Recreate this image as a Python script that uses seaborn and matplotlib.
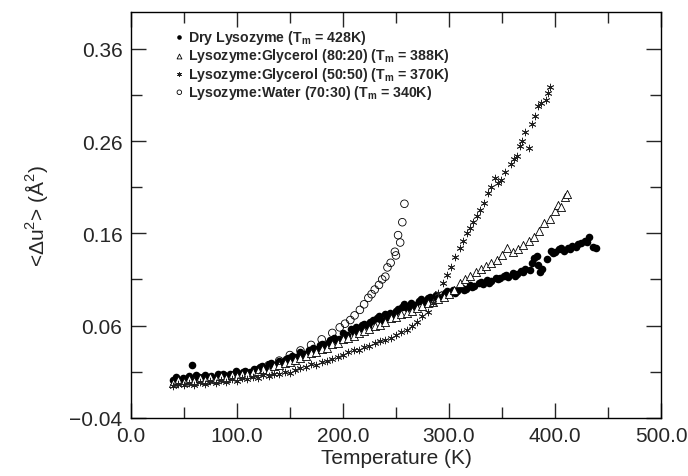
import numpy as np
import pandas as pd
import matplotlib
matplotlib.use("Agg")
import matplotlib.pyplot as plt
import seaborn as sns
from matplotlib.ticker import MultipleLocator, FuncFormatter

# Dry lysozyme (filled circles)
dry_T = [40, 43, 46, 49, 52, 55, 58, 61, 64, 67, 70, 73, 76, 79, 82, 85, 88, 91, 94, 97,
         100, 104, 108, 112, 116, 120, 124, 128, 132, 136, 140, 144, 148, 152, 156, 160,
         164, 168, 172, 176, 180, 184, 188, 192, 196, 200, 204, 208, 212, 216, 220, 224,
         228, 232, 236, 240, 244, 248, 252, 256, 260, 264, 268, 272, 276, 280, 284, 288,
         292, 296, 300, 304, 308, 312, 316, 320, 324, 328, 332, 336, 340, 344, 348, 352,
         356, 360, 364, 368, 372, 376, 378, 380, 383, 384, 386, 388, 392, 396, 400, 404,
         408, 412, 416, 420, 424, 428, 432, 436, 439]
dry_u = [0.001, 0.004, -0.001, 0.003, 0.002, 0.005, 0.017, 0.001, 0.004, 0.002, 0.006,
         0.003, 0.005, 0.002, 0.007, 0.004, 0.006, 0.003, 0.008, 0.005,
         0.009, 0.007, 0.011, 0.010, 0.013, 0.012, 0.016, 0.014, 0.019, 0.017, 0.022, 0.020,
         0.025, 0.027, 0.026, 0.031, 0.029, 0.034, 0.036, 0.035, 0.040, 0.038, 0.044, 0.046,
         0.045, 0.052, 0.050, 0.056, 0.058, 0.057, 0.062, 0.060, 0.066, 0.068, 0.066, 0.072,
         0.074, 0.071, 0.078, 0.080, 0.079, 0.084, 0.082, 0.087, 0.086, 0.090, 0.088, 0.093,
         0.091, 0.095, 0.094, 0.098, 0.097, 0.101, 0.100, 0.104, 0.103, 0.106, 0.105, 0.109,
         0.108, 0.112, 0.111, 0.114, 0.113, 0.117, 0.116, 0.119, 0.121, 0.120, 0.128, 0.133,
         0.135, 0.126, 0.118, 0.121, 0.132, 0.141, 0.140, 0.143, 0.141, 0.144, 0.146, 0.145,
         0.149, 0.152, 0.156, 0.145, 0.144]

# second, slightly offset pass of dry points that thickens the band
dry2_T = [42, 48, 54, 62, 68, 74, 81, 87, 93, 99, 106, 114, 122, 130, 138, 146, 154, 162,
          170, 178, 186, 194, 202, 210, 218, 226, 234, 242, 250, 258, 266, 274, 282, 290,
          298, 306, 314, 322, 330, 338, 346, 354, 362, 370, 398, 406, 414, 422, 430]
dry2_u = [-0.002, 0.000, 0.003, 0.006, 0.004, 0.001, 0.003, 0.008, 0.005, 0.011, 0.010,
          0.008, 0.015, 0.018, 0.016, 0.024, 0.022, 0.028, 0.032, 0.039, 0.041, 0.043, 0.049,
          0.053, 0.061, 0.064, 0.070, 0.069, 0.076, 0.083, 0.081, 0.089, 0.091, 0.089, 0.097,
          0.095, 0.099, 0.102, 0.107, 0.106, 0.110, 0.115, 0.114, 0.118, 0.139, 0.144, 0.143,
          0.148, 0.151]

# Lysozyme:Glycerol 80:20 (open triangles)
g80_T = [40, 45, 50, 55, 60, 65, 70, 75, 80, 85, 90, 95, 100, 105, 110, 115, 120, 125, 130,
         135, 140, 145, 150, 155, 160, 165, 170, 175, 180, 185, 190, 195, 200, 205, 210, 215,
         220, 225, 230, 235, 240, 245, 250, 255, 260, 265, 270, 275, 280, 285, 290, 295, 300,
         305, 310, 315, 320, 325, 330, 335, 340, 345, 350, 355, 360, 365, 370, 375, 380, 385,
         390, 395, 400, 403, 406, 409, 411]
g80_u = [-0.002, 0.001, -0.001, 0.002, 0.000, 0.003, 0.001, 0.004, 0.002, 0.005, 0.003,
         0.006, 0.005, 0.008, 0.007, 0.010, 0.011, 0.013, 0.012, 0.016, 0.017, 0.019, 0.021,
         0.023, 0.025, 0.027, 0.030, 0.031, 0.035, 0.036, 0.040, 0.041, 0.045, 0.046, 0.049,
         0.052, 0.054, 0.056, 0.059, 0.061, 0.064, 0.068, 0.069, 0.072, 0.074, 0.076, 0.079,
         0.081, 0.084, 0.086, 0.089, 0.091, 0.094, 0.099, 0.106, 0.110, 0.114, 0.118, 0.121,
         0.125, 0.128, 0.131, 0.136, 0.144, 0.140, 0.143, 0.147, 0.152, 0.156, 0.163, 0.171,
         0.176, 0.184, 0.191, 0.188, 0.199, 0.203]

# Lysozyme:Glycerol 50:50 (asterisks)
g50_T = [40, 45, 50, 55, 60, 65, 70, 75, 80, 85, 90, 95, 100, 105, 110, 115, 120, 125, 130,
         135, 140, 145, 150, 155, 160, 165, 170, 175, 180, 185, 190, 195, 200, 205, 210, 215,
         220, 225, 230, 235, 240, 245, 250, 255, 260, 265, 270, 275, 280, 285, 290, 294, 298,
         302, 306, 310, 313, 317, 320, 323, 326, 329, 333, 337, 340, 343, 346, 349, 353, 358,
         361, 364, 367, 369, 372, 375, 378, 381, 384, 387, 391, 393, 395]
g50_u = [-0.005, -0.003, -0.004, -0.002, -0.004, -0.001, -0.003, 0.000, -0.002, 0.001,
         -0.001, 0.002, 0.000, 0.003, 0.002, 0.004, 0.003, 0.006, 0.005, 0.008, 0.007, 0.010,
         0.009, 0.012, 0.014, 0.015, 0.018, 0.017, 0.020, 0.022, 0.024, 0.026, 0.028, 0.031,
         0.034, 0.033, 0.037, 0.038, 0.041, 0.043, 0.044, 0.047, 0.050, 0.053, 0.055, 0.060,
         0.064, 0.070, 0.075, 0.084, 0.095, 0.106, 0.115, 0.124, 0.134, 0.144, 0.152, 0.160,
         0.166, 0.172, 0.179, 0.185, 0.193, 0.204, 0.210, 0.220, 0.214, 0.218, 0.226, 0.235,
         0.240, 0.244, 0.255, 0.260, 0.270, 0.252, 0.279, 0.287, 0.298, 0.301, 0.305, 0.312,
         0.319]

# Lysozyme:Water 70:30 (open circles)
w70_T = [120, 130, 140, 150, 160, 170, 180, 190, 197, 202, 207, 211, 216, 220, 224, 227,
         230, 234, 237, 240, 242, 245, 249, 250, 252, 254, 256, 258]
w70_u = [0.012, 0.017, 0.022, 0.028, 0.033, 0.039, 0.045, 0.052, 0.058, 0.062, 0.066, 0.071,
         0.077, 0.083, 0.090, 0.094, 0.099, 0.104, 0.110, 0.113, 0.123, 0.128, 0.140, 0.136,
         0.158, 0.150, 0.172, 0.192]

labels = [r"Dry Lysozyme (T$_\mathbf{m}$ = 428K)",
          r"Lysozyme:Glycerol (80:20) (T$_\mathbf{m}$ = 388K)",
          r"Lysozyme:Glycerol (50:50) (T$_\mathbf{m}$ = 370K)",
          r"Lysozyme:Water (70:30) (T$_\mathbf{m}$ = 340K)"]

sns.set_style("ticks")
plt.rcParams['font.family'] = ['Liberation Sans', 'DejaVu Sans']
plt.rcParams['mathtext.fontset'] = 'custom'
plt.rcParams['mathtext.rm'] = 'Liberation Sans'
plt.rcParams['mathtext.bf'] = 'Liberation Sans:bold'

fig = plt.figure(figsize=(6.88, 4.77), dpi=100)
ax = fig.add_axes([0.190, 0.122, 0.771, 0.851])

sns.scatterplot(x=dry_T, y=dry_u, ax=ax, marker='o', color='black', s=30,
                linewidth=0, label=labels[0])
sns.scatterplot(x=dry2_T, y=dry2_u, ax=ax, marker='o', color='black', s=30,
                linewidth=0)
sns.scatterplot(x=g80_T, y=g80_u, ax=ax, marker='^', facecolor='white', edgecolor='black',
                s=34, linewidth=0.6, label=labels[1])
sns.scatterplot(x=g50_T, y=g50_u, ax=ax, marker=(6, 2, 0), color='#222222', s=24,
                linewidth=0.6, label=labels[2])
sns.scatterplot(x=w70_T, y=w70_u, ax=ax, marker='o', facecolor='none', edgecolor='black',
                s=30, linewidth=0.6, label=labels[3])

ax.set_xlim(0, 500)
ax.set_ylim(-0.04, 0.40)
ax.set_xticks([0, 100, 200, 300, 400, 500])
ax.set_yticks([-0.04, 0.06, 0.16, 0.26, 0.36])
ax.xaxis.set_minor_locator(MultipleLocator(50))
ax.set_yticks([0.01, 0.11, 0.21, 0.31], minor=True)
ax.xaxis.set_major_formatter(FuncFormatter(lambda v, p: f"{v:.1f}"))
ax.yaxis.set_major_formatter(FuncFormatter(lambda v, p: f"{v:.2f}".replace('-', '\u2212')))
ax.tick_params(which='both', direction='in', top=True, right=True, labelsize=15, width=1)
ax.tick_params(which='major', length=11, pad=6)
ax.tick_params(which='minor', length=8)
for sp in ax.spines.values():
    sp.set_linewidth(1)
    sp.set_color('black')

ax.set_xlabel("Temperature (K)", fontsize=15, labelpad=2)
ax.set_ylabel("<Δu$^2$> (Å$^2$)", fontsize=15, labelpad=14)

leg = ax.legend(loc='upper left', bbox_to_anchor=(0.085, 0.96), frameon=False,
                prop={'weight': 'bold', 'size': 10.2}, handlelength=0.5, handletextpad=0.35,
                labelspacing=0.02, borderaxespad=0, borderpad=0, markerscale=0.6)

fig.savefig("out.png", dpi=100)
